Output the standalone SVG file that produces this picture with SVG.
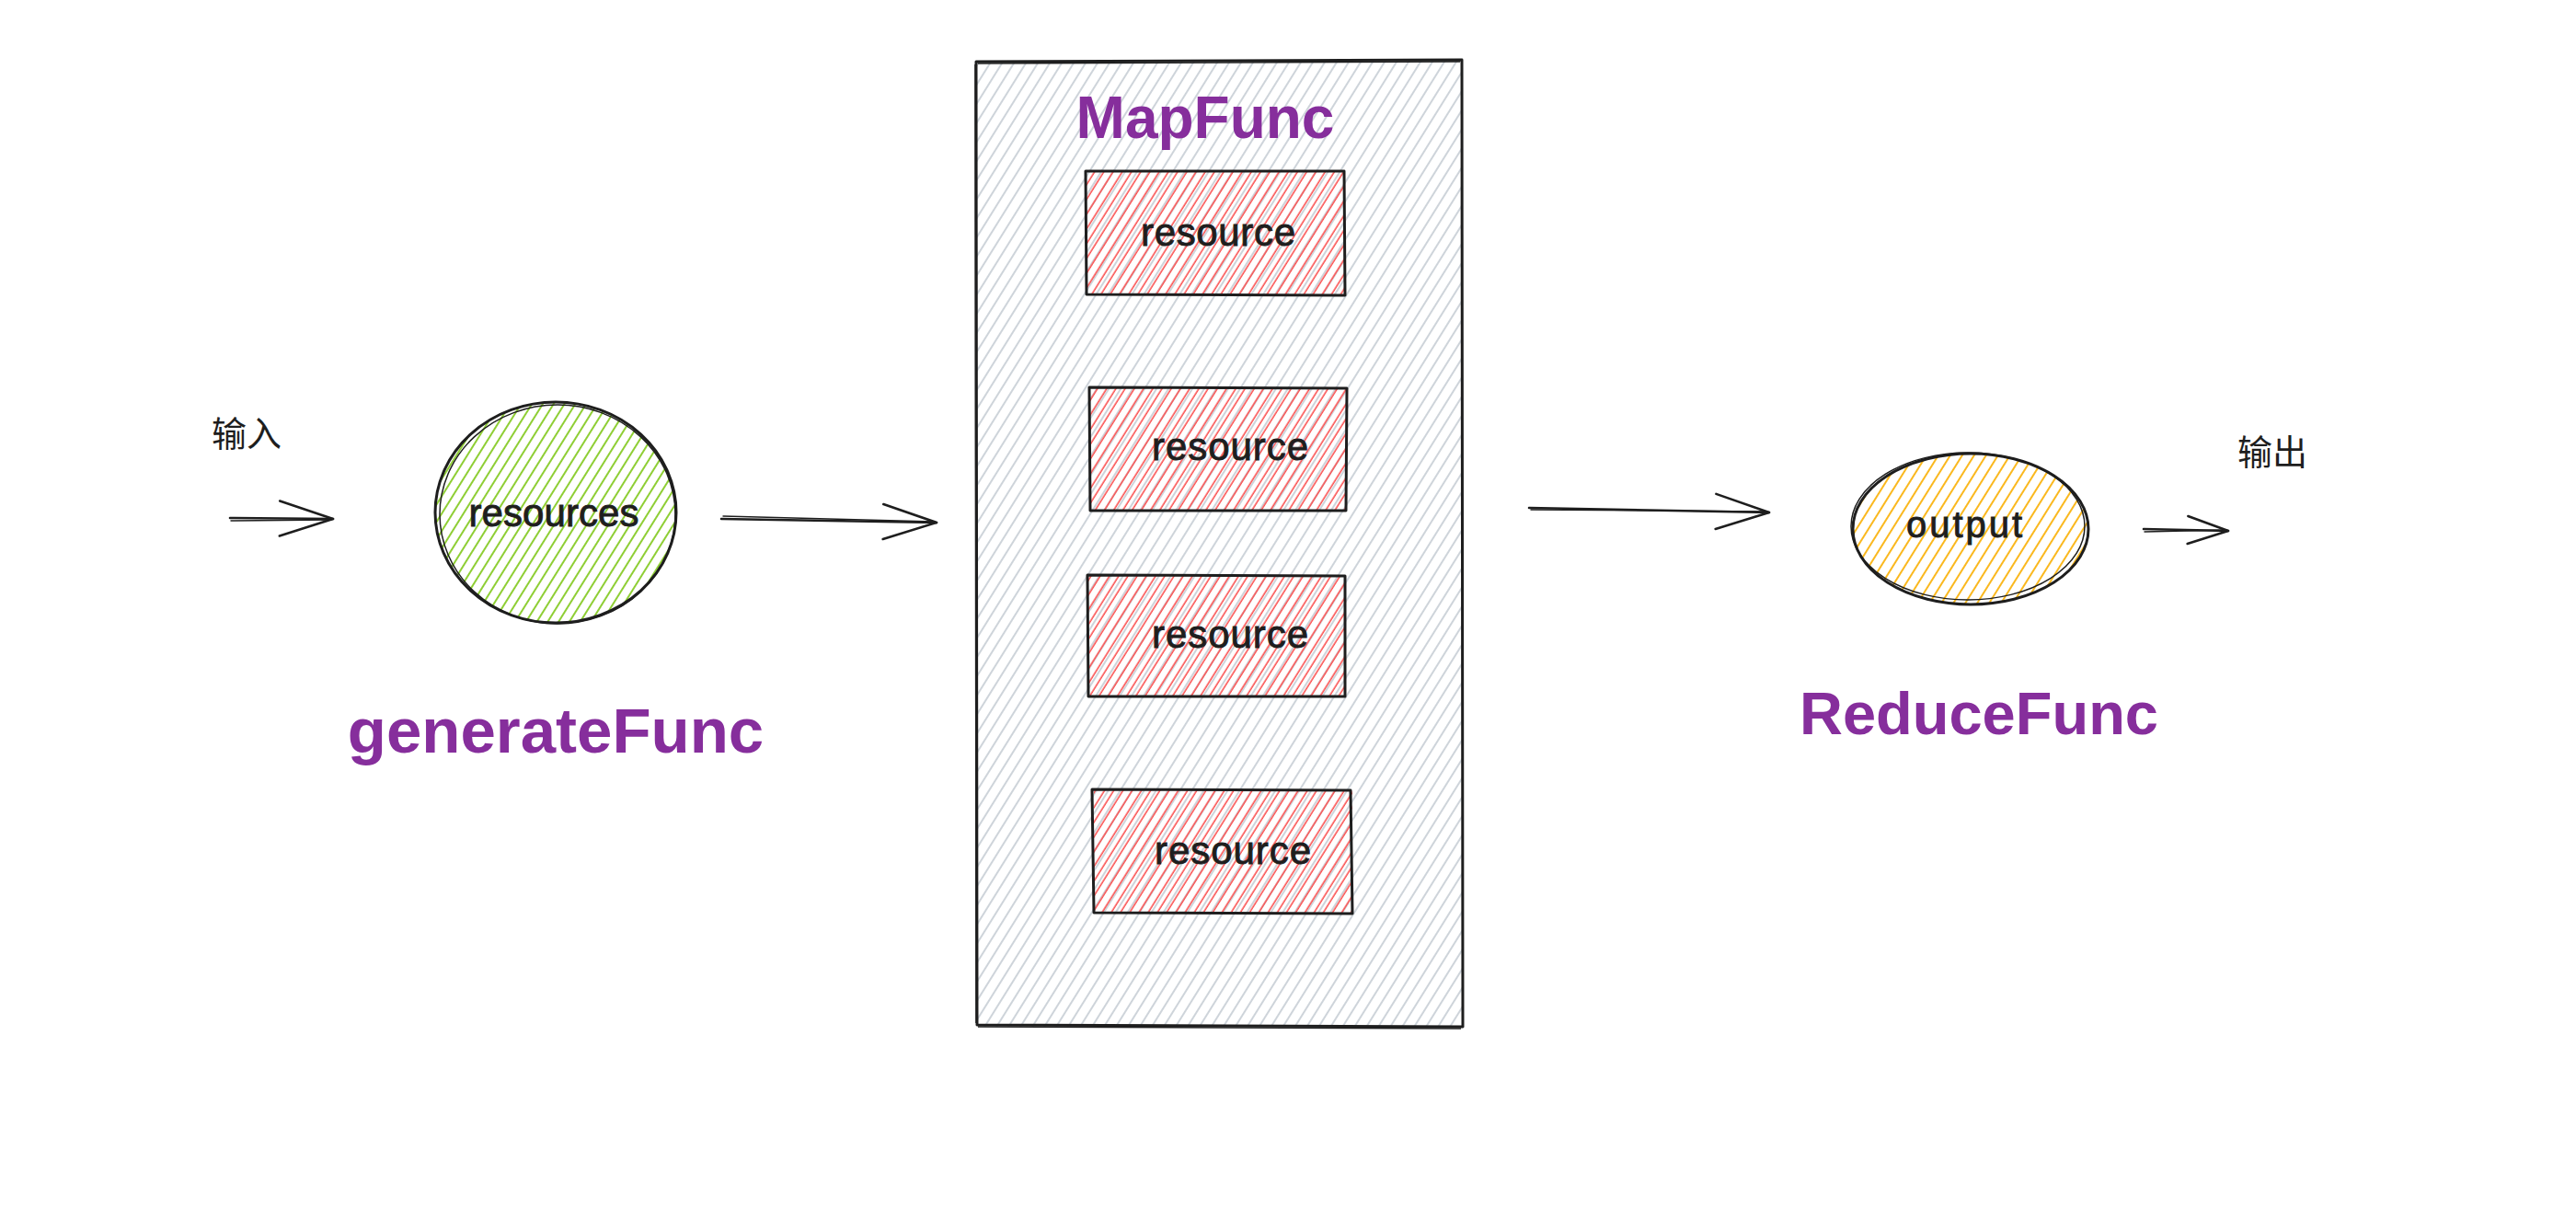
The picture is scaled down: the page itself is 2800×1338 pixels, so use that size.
<svg xmlns="http://www.w3.org/2000/svg" width="2800" height="1338" viewBox="0 0 2800 1338">
  <style>
    .edge { fill: none; stroke: #1e1e1e; stroke-width: 2.6; stroke-linecap: round; }
    .edge2 { fill: none; stroke: #1e1e1e; stroke-width: 1.4; stroke-linecap: round; }
    .outline { fill: none; stroke: #1e1e1e; stroke-width: 3; stroke-linejoin: round; }
    .outline2 { fill: none; stroke: #1e1e1e; stroke-width: 1.5; }
    .lbl { font-family: "Liberation Sans", "Open Sans", sans-serif; fill: #1e1e1e; stroke: #1e1e1e; stroke-width: 0.9; text-anchor: middle; }
    .func { font-family: "Liberation Sans", "Open Sans", sans-serif; fill: #862e9c; font-weight: bold; text-anchor: middle; }
    .cjk { font-family: "Liberation Sans", "Noto Sans CJK SC", sans-serif; fill: #1e1e1e; font-size: 38px; }
  </style>
  <defs>
    <pattern id="hGray" width="11" height="11" patternUnits="userSpaceOnUse" patternTransform="rotate(32)">
      <line x1="3" y1="0" x2="3" y2="11" stroke="#ced4da" stroke-width="2"/>
    </pattern>
    <pattern id="hRed" width="8.5" height="8.5" patternUnits="userSpaceOnUse" patternTransform="rotate(32)">
      <line x1="3" y1="0" x2="3" y2="8.5" stroke="#fa5252" stroke-width="1.6"/>
    </pattern>
    <pattern id="hGreen" width="10" height="10" patternUnits="userSpaceOnUse" patternTransform="rotate(32)">
      <line x1="3" y1="0" x2="3" y2="10" stroke="#82c91e" stroke-width="1.8"/>
    </pattern>
    <pattern id="hYellow" width="11" height="11" patternUnits="userSpaceOnUse" patternTransform="rotate(32)">
      <line x1="3" y1="0" x2="3" y2="11" stroke="#fab005" stroke-width="1.8"/>
    </pattern>
    <marker id="head" viewBox="0 0 62 44" refX="60" refY="22" markerWidth="62" markerHeight="44" markerUnits="userSpaceOnUse" orient="auto">
      <path d="M2,3 L60,22 L2,41" fill="none" stroke="#1e1e1e" stroke-width="2.6" stroke-linecap="round" stroke-linejoin="round"/>
    </marker>
    <marker id="headSmall" viewBox="0 0 48 34" refX="46" refY="17" markerWidth="48" markerHeight="34" markerUnits="userSpaceOnUse" orient="auto">
      <path d="M2,2 L46,17 L2,32" fill="none" stroke="#1e1e1e" stroke-width="2.6" stroke-linecap="round" stroke-linejoin="round"/>
    </marker>
  </defs>

  <rect width="2800" height="1338" fill="#ffffff"/>

  <!-- MapFunc container -->
  <g id="node-mapfunc">
    <rect x="1061" y="66" width="528" height="1050" fill="url(#hGray)"/>
    <path class="outline" d="M1061,67 L1589,65 L1590,1116 L1062,1114 Z"/>
    <path class="outline2" d="M1063,69 L1587,67 M1060,70 L1061,1112 M1063,1116 L1588,1118"/>
    <text class="func" x="1310" y="150" font-size="64">MapFunc</text>
  </g>

  <!-- resource boxes -->
  <g id="node-resource-1">
    <rect x="1180" y="186" width="281" height="135" fill="url(#hRed)"/>
    <path class="outline" d="M1180,186 L1461,186 L1462,321 L1181,320 Z"/>
    <text class="lbl" x="1324" y="267" font-size="42" textLength="168">resource</text>
  </g>
  <g id="node-resource-2">
    <rect x="1184" y="421" width="280" height="134" fill="url(#hRed)"/>
    <path class="outline" d="M1184,421 L1464,422 L1463,555 L1185,555 Z"/>
    <text class="lbl" x="1337" y="500" font-size="42" textLength="170">resource</text>
  </g>
  <g id="node-resource-3">
    <rect x="1182" y="625" width="280" height="132" fill="url(#hRed)"/>
    <path class="outline" d="M1182,625 L1462,626 L1462,757 L1183,757 Z"/>
    <text class="lbl" x="1337" y="704" font-size="42" textLength="170">resource</text>
  </g>
  <g id="node-resource-4">
    <rect x="1189" y="859" width="281" height="134" fill="url(#hRed)"/>
    <path class="outline" d="M1187,858 L1468,859 L1470,993 L1189,992 Z"/>
    <text class="lbl" x="1340" y="939" font-size="42" textLength="170">resource</text>
  </g>

  <!-- resources circle -->
  <g id="node-resources">
    <ellipse cx="604" cy="557" rx="131" ry="120" fill="url(#hGreen)"/>
    <ellipse class="outline" cx="604" cy="557" rx="131" ry="120"/>
    <ellipse class="outline2" cx="606" cy="559" rx="128" ry="119"/>
    <text class="lbl" x="602" y="572" font-size="42" textLength="185">resources</text>
  </g>

  <!-- output ellipse -->
  <g id="node-output">
    <ellipse cx="2142" cy="575" rx="128" ry="82" fill="url(#hYellow)"/>
    <ellipse class="outline" cx="2142" cy="575" rx="128" ry="82"/>
    <ellipse class="outline2" cx="2139" cy="572" rx="127" ry="80"/>
    <text class="lbl" x="2135" y="584" font-size="40" textLength="126">output</text>
  </g>

  <!-- free labels -->
  <g id="label-generate">
    <text class="func" x="604" y="818" font-size="69">generateFunc</text>
  </g>
  <g id="label-reduce">
    <text class="func" x="2151" y="798" font-size="65">ReduceFunc</text>
  </g>
  <g id="label-input">
    <text class="cjk" x="230" y="485">输入</text>
  </g>
  <g id="label-output">
    <text class="cjk" x="2432" y="505">输出</text>
  </g>

  <!-- connectors -->
  <g id="connectors">
    <path class="edge" d="M250,563 L362,564" marker-end="url(#head)"/>
    <path class="edge2" d="M251,566 L360,565"/>
    <path class="edge" d="M784,564 L1018,568" marker-end="url(#head)"/>
    <path class="edge2" d="M786,561 L1015,567"/>
    <path class="edge" d="M1662,552 L1923,557" marker-end="url(#head)"/>
    <path class="edge2" d="M1664,554 L1920,556"/>
    <path class="edge" d="M2330,575 L2422,577" marker-end="url(#headSmall)"/>
    <path class="edge2" d="M2331,578 L2420,576"/>
  </g>
</svg>
